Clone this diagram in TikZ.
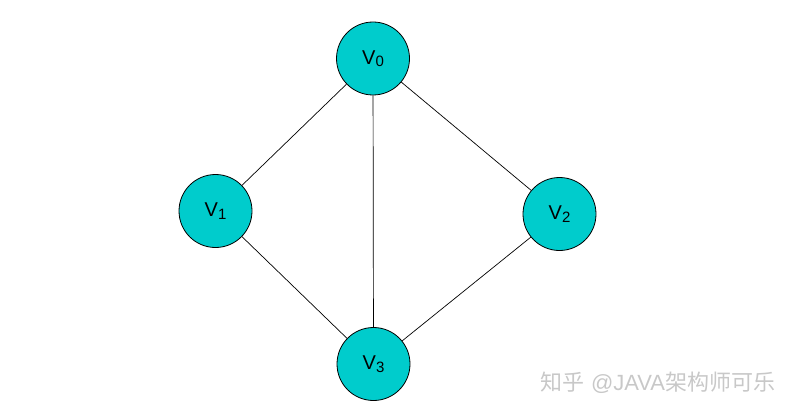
\documentclass[tikz,border=0pt]{standalone}
\usepackage{fontspec}
\setmainfont{Liberation Sans}
\newfontfamily\cjk{Noto Sans CJK SC}
\definecolor{vfill}{RGB}{0,204,204}
\definecolor{wm}{RGB}{200,200,200}
\newcommand{\vsub}[1]{V\raisebox{-2.5pt}{\fontsize{15}{15}\selectfont #1}}
\begin{document}
\begin{tikzpicture}[x=1pt,y=-1pt,
  vert/.style={circle,draw=black,line width=0.8pt,fill=vfill,minimum size=73pt,inner sep=0pt,font=\fontsize{20}{20}\selectfont},
  edge/.style={draw=black,line width=0.7pt}]
\useasboundingbox (0,0) rectangle (802,417);
\node[vert] (v0) at (373,58.5) {\vsub{0}};
\node[vert] (v1) at (215.5,211) {\vsub{1}};
\node[vert] (v2) at (559.5,214) {\vsub{2}};
\node[vert] (v3) at (373.5,364) {\vsub{3}};
\draw[edge] (v0) -- (v1);
\draw[edge] (v0) -- (v2);
\draw[edge] (v0) -- (v3);
\draw[edge] (v1) -- (v3);
\draw[edge] (v2) -- (v3);
\node[text=wm,anchor=center,inner sep=0pt,font=\fontsize{22}{22}\selectfont] (wmk) at (658,383) {{\cjk 知乎} @JAVA{\cjk 架构师可乐}};
\end{tikzpicture}
\end{document}
